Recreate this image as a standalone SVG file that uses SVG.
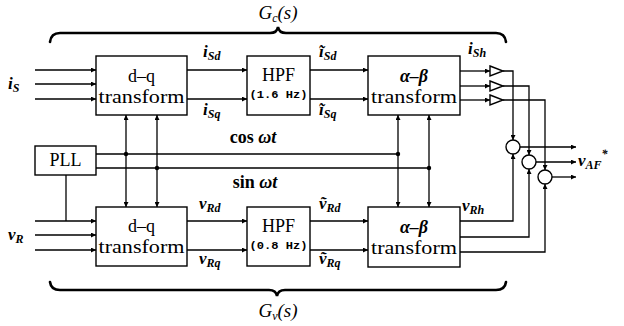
<svg xmlns="http://www.w3.org/2000/svg" width="624" height="326" viewBox="0 0 624 326">
<style>
.bx{fill:#fff;stroke:#000;stroke-width:1.4}
.ln{fill:none;stroke:#000;stroke-width:1.3}
.ar{marker-end:url(#ah)}
.ar2{marker-start:url(#ah);marker-end:url(#ah)}
.br{fill:none;stroke:#000;stroke-width:2.6;stroke-linecap:round}
.t{font-family:"Liberation Serif","DejaVu Serif",serif;font-size:18px;fill:#000;text-anchor:middle}
.tr{font-family:"Liberation Serif","DejaVu Serif",serif;font-size:19px;fill:#000;text-anchor:middle}
.hz{font-family:"Liberation Mono","DejaVu Sans Mono",monospace;font-size:11px;font-weight:bold;fill:#000;text-anchor:middle}
.m{font-family:"Liberation Serif","DejaVu Serif",serif;font-size:17px;font-style:italic;font-weight:bold;fill:#000}
.s{font-size:12px}
.g{font-family:"Liberation Serif","DejaVu Serif",serif;font-size:19px;font-style:italic;fill:#000}
.dot{fill:#000}
</style>
<defs>
<marker id="ah" viewBox="0 0 6 6" refX="6" refY="3" markerWidth="6" markerHeight="5" orient="auto-start-reverse" markerUnits="userSpaceOnUse"><path d="M0,0 L6,3 L0,6 z" fill="#000"/></marker>
</defs>

<g id="braces">
<path class="br" d="M50,42 Q51,33 60,33 L270,33 Q277,33 278,27 Q279,33 286,33 L496,33 Q505,33 506,42"/>
<path class="br" d="M50,282 Q51,290 60,290 L269,290 Q276,290 277,296 Q278,290 285,290 L496,290 Q505,290 506,282"/>
<text class="g" x="278" y="19" text-anchor="middle">G<tspan class="s" dy="3">c</tspan><tspan dy="-3">(s)</tspan></text>
<text class="g" x="278" y="317" text-anchor="middle">G<tspan class="s" dy="3">v</tspan><tspan dy="-3">(s)</tspan></text>
</g>

<g id="connectors">
<line class="ln ar" x1="35" y1="70" x2="96" y2="70"/>
<line class="ln ar" x1="35" y1="84" x2="96" y2="84"/>
<line class="ln ar" x1="35" y1="99" x2="96" y2="99"/>
<line class="ln ar" x1="35" y1="221" x2="96" y2="221"/>
<line class="ln ar" x1="35" y1="235" x2="96" y2="235"/>
<line class="ln ar" x1="35" y1="250" x2="96" y2="250"/>
<line class="ln" x1="66" y1="175" x2="66" y2="221"/>
<line class="ln ar" x1="187" y1="70" x2="247" y2="70"/>
<line class="ln ar" x1="187" y1="99" x2="247" y2="99"/>
<line class="ln ar" x1="310" y1="70" x2="368" y2="70"/>
<line class="ln ar" x1="310" y1="99" x2="368" y2="99"/>
<line class="ln ar" x1="187" y1="221" x2="247" y2="221"/>
<line class="ln ar" x1="187" y1="250" x2="247" y2="250"/>
<line class="ln ar" x1="310" y1="221" x2="368" y2="221"/>
<line class="ln ar" x1="310" y1="250" x2="368" y2="250"/>
<line class="ln" x1="96" y1="154" x2="398" y2="154"/>
<line class="ln" x1="96" y1="168" x2="429" y2="168"/>
<line class="ln ar2" x1="126" y1="115" x2="126" y2="207"/>
<line class="ln ar2" x1="157" y1="115" x2="157" y2="207"/>
<line class="ln ar2" x1="398" y1="115" x2="398" y2="207"/>
<line class="ln ar2" x1="429" y1="115" x2="429" y2="207"/>
<circle class="dot" cx="126" cy="154" r="2.2"/>
<circle class="dot" cx="157" cy="168" r="2.2"/>
<circle class="dot" cx="398" cy="154" r="2.2"/>
<circle class="dot" cx="429" cy="168" r="2.2"/>
<line class="ln ar" x1="460" y1="71" x2="490" y2="71"/>
<line class="ln ar" x1="460" y1="86" x2="490" y2="86"/>
<line class="ln ar" x1="460" y1="100" x2="490" y2="100"/>
<polyline class="ln ar" points="503,71 513,71 513,140"/>
<polyline class="ln ar" points="503,86 529,86 529,155"/>
<polyline class="ln ar" points="503,100 545,100 545,170"/>
<polyline class="ln ar" points="460,221 513,221 513,154"/>
<polyline class="ln ar" points="460,237 529,237 529,169"/>
<polyline class="ln ar" points="460,252 545,252 545,184"/>
<line class="ln ar" x1="520" y1="147" x2="576" y2="147"/>
<line class="ln ar" x1="536" y1="162" x2="576" y2="162"/>
<line class="ln ar" x1="552" y1="177" x2="576" y2="177"/>
</g>

<g id="dq-top">
<rect class="bx" x="96" y="56" width="91" height="59"/>
<text class="t" x="141.5" y="82">d–q</text>
<text class="tr" x="141.5" y="103" textLength="86" lengthAdjust="spacingAndGlyphs">transform</text>
</g>
<g id="hpf-top">
<rect class="bx" x="247" y="56" width="63" height="59"/>
<text class="t" x="278.5" y="81" font-size="19">HPF</text>
<text class="hz" x="278.5" y="98" textLength="58" lengthAdjust="spacingAndGlyphs">(1.6 Hz)</text>
</g>
<g id="ab-top">
<rect class="bx" x="368" y="56" width="92" height="59"/>
<text class="t" x="414" y="82" font-style="italic" font-weight="bold">α–β</text>
<text class="tr" x="414" y="103" textLength="86" lengthAdjust="spacingAndGlyphs">transform</text>
</g>
<g id="pll">
<rect class="bx" x="35" y="146" width="61" height="29"/>
<text class="t" x="65.5" y="166">PLL</text>
</g>
<g id="dq-bot">
<rect class="bx" x="96" y="207" width="91" height="59"/>
<text class="t" x="141.5" y="232">d–q</text>
<text class="tr" x="141.5" y="253" textLength="86" lengthAdjust="spacingAndGlyphs">transform</text>
</g>
<g id="hpf-bot">
<rect class="bx" x="247" y="207" width="63" height="59"/>
<text class="t" x="278.5" y="232" font-size="19">HPF</text>
<text class="hz" x="278.5" y="249" textLength="58" lengthAdjust="spacingAndGlyphs">(0.8 Hz)</text>
</g>
<g id="ab-bot">
<rect class="bx" x="368" y="207" width="92" height="60"/>
<text class="t" x="414" y="233" font-style="italic" font-weight="bold">α–β</text>
<text class="tr" x="414" y="254" textLength="86" lengthAdjust="spacingAndGlyphs">transform</text>
</g>
<g id="buffers">
<polygon class="bx" points="490,66 503,71 490,76"/>
<polygon class="bx" points="490,81 503,86 490,91"/>
<polygon class="bx" points="490,95 503,100 490,105"/>
</g>
<g id="sums">
<circle class="bx" cx="513" cy="147" r="7"/>
<circle class="bx" cx="529" cy="162" r="7"/>
<circle class="bx" cx="545" cy="177" r="7"/>
</g>

<g id="labels">
<text class="m" x="8" y="89">i<tspan class="s" dy="3">S</tspan></text>
<text class="m" x="8" y="240">v<tspan class="s" dy="3">R</tspan></text>
<text class="m" x="203" y="57">i<tspan class="s" dy="3">Sd</tspan></text>
<text class="m" x="203" y="115">i<tspan class="s" dy="3">Sq</tspan></text>
<text class="m" x="319" y="57">ĩ<tspan class="s" dy="3">Sd</tspan></text>
<text class="m" x="319" y="115">ĩ<tspan class="s" dy="3">Sq</tspan></text>
<text class="m" x="199" y="209">v<tspan class="s" dy="3">Rd</tspan></text>
<text class="m" x="199" y="264">v<tspan class="s" dy="3">Rq</tspan></text>
<text class="m" x="319" y="209">ṽ<tspan class="s" dy="3">Rd</tspan></text>
<text class="m" x="319" y="264">ṽ<tspan class="s" dy="3">Rq</tspan></text>
<text class="m" x="468" y="54">i<tspan class="s" dy="3">Sh</tspan></text>
<text class="m" x="462" y="211">v<tspan class="s" dy="3">Rh</tspan></text>
<text class="m" x="578" y="166">v<tspan class="s" dy="3">AF</tspan><tspan class="s" dy="-11">*</tspan></text>
<text class="t" x="253" y="143" text-anchor="start" font-weight="bold" font-size="16">cos <tspan font-style="italic">ωt</tspan></text>
<text class="t" x="255" y="188" text-anchor="start" font-weight="bold" font-size="16">sin <tspan font-style="italic">ωt</tspan></text>
</g>
</svg>
